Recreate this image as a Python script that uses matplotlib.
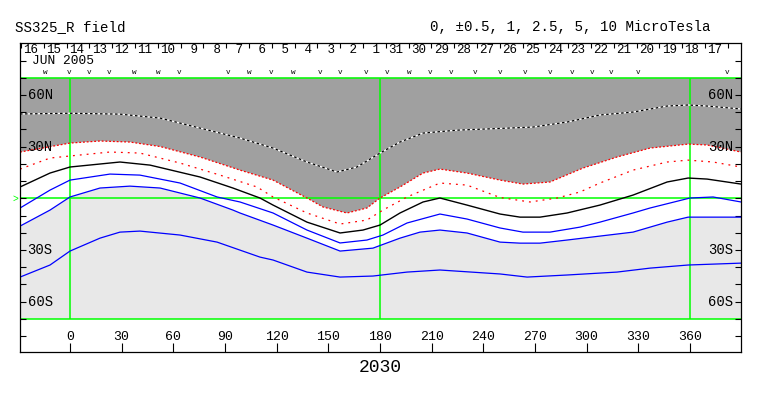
import numpy as np
import matplotlib
matplotlib.use("Agg")
import matplotlib.pyplot as plt

# contour lines: longitude (deg) / latitude (deg)
top_lon = [-29, 0, 29, 52.3, 75.5, 98.7, 117.9, 137.6, 155, 166.6, 180, 191.6, 205, 224.7, 249.7, 268.8, 288.6, 307.7, 326.9, 346.7, 358.9, 369.9, 389.6]
top_lat = [49, 49.4, 48.9, 46.6, 40.8, 35, 29.2, 21.1, 15.3, 18.2, 26.3, 32.7, 37.9, 39.6, 40.6, 41.4, 44.3, 48.4, 50.1, 53.6, 54.2, 53.6, 51.9]

red1_lon = [-29, 0, 17.4, 34.8, 52.3, 75.5, 98.7, 117.9, 137.6, 146.9, 160.8, 172.4, 180, 191.6, 205, 214.8, 230.5, 249.7, 263, 278.7, 297.9, 317.6, 336.8, 358.9, 369.9, 389.6]
red1_lat = [26.9, 32.1, 33.3, 32.7, 30.1, 24, 16.4, 10.6, 0.2, -5, -8.5, -5.6, 0.2, 6.6, 14.7, 17, 14.7, 10.6, 8.3, 9.5, 17.6, 24, 29.2, 31.5, 31, 26.9]

red2_lon = [-29, -11.6, 0, 23.2, 40.6, 63.9, 87.1, 108.6, 117.9, 137.6, 156.8, 172.4, 181.7, 195.7, 214.8, 230.5, 249.7, 267.1, 282.8, 296.1, 307.7, 326.9, 346.7, 358.9, 373.4, 389.6]
red2_lat = [17, 23.4, 24.6, 26.9, 26.3, 20.5, 13.5, 6.6, 0.8, -8.5, -14.9, -12.6, -6.8, 0.8, 8.9, 7.7, 0.5, -2.1, 0.2, 3.7, 8.9, 16.4, 21.1, 22.2, 21.1, 18.2]

zero_lon = [-29, -11.6, 0, 29, 46.5, 75.5, 94.6, 110.3, 117.9, 137.6, 156.8, 170.1, 180, 191.6, 205, 214.8, 230.5, 249.7, 261.3, 272.9, 288.6, 307.7, 326.9, 346.7, 358.9, 369.9, 389.6]
zero_lat = [6.6, 14.7, 18.2, 21.1, 19.3, 12.4, 6, 0.2, -3.9, -13.8, -20.1, -18.4, -15.5, -8.5, -2.1, 0.2, -3.9, -9.1, -10.9, -10.9, -8.5, -3.9, 1.9, 9.5, 11.8, 11.2, 8.3]

blue1_lon = [-29, -11.6, 0, 23.2, 40.6, 63.9, 85.4, 98.7, 117.9, 137.6, 156.8, 172.4, 181.7, 195.7, 214.8, 230.5, 249.7, 263, 278.7, 296.1, 307.7, 326.9, 336.8, 360, 373.4, 389.6]
blue1_lat = [-5.6, 4.8, 10.6, 14.1, 13.5, 8.9, 0.8, -2.1, -8.5, -18.4, -25.9, -24.2, -21.3, -14.3, -9.1, -12, -17.2, -19.6, -19.6, -16.7, -13.8, -8.5, -5.6, 0.2, 0.8, -2.1]

blue2_lon = [-29, -11.6, 0, 17.4, 34.8, 52.3, 75.5, 94.6, 98.7, 117.9, 137.6, 156.8, 175.9, 191.6, 203.2, 214.8, 230.5, 249.7, 261.3, 272.9, 288.6, 307.7, 326.9, 346.7, 358.9, 369.9, 389.6]
blue2_lat = [-16.1, -6.8, 0.8, 6, 7.1, 6, 0.2, -6.8, -8.5, -15.5, -23.1, -30.6, -28.9, -23.1, -19.6, -18.4, -20.1, -25.4, -26, -26, -24.2, -21.9, -19.6, -13.8, -10.9, -10.9, -10.9]

blue3_lon = [-29, -11.6, 0, 17.4, 29, 40.6, 63.9, 85.4, 110.3, 117.9, 137.6, 156.8, 175.9, 195.7, 214.8, 249.7, 265.4, 288.6, 317.6, 336.8, 358.9, 389.6]
blue3_lat = [-45.7, -38.7, -30.6, -23.1, -19.6, -19, -21.3, -25.4, -34.1, -35.8, -42.8, -45.7, -45.1, -42.8, -41.6, -43.9, -45.7, -44.5, -42.8, -40.5, -38.7, -37.6]

day_labels = ["16", "15", "14", "13", "12", "11", "10", " 9", " 8", " 7", " 6", " 5", " 4", " 3", " 2", " 1",
              "31", "30", "29", "28", "27", "26", "25", "24", "23", "22", "21", "20", "19", "18", "17"]
pass_lon = [-14.5, -0.6, 11.0, 22.6, 37.2, 51.1, 63.3, 91.7, 103.9, 116.7, 129.5, 145.2, 156.8, 171.9, 184.1,
            196.9, 209.0, 221.2, 235.2, 249.7, 264.2, 278.7, 291.5, 303.1, 314.1, 329.8, 381.5]
pass_mark = ["w", "v", "v", "v", "w", "w", "v", "v", "w", "v", "w", "v", "v", "v", "v",
             "w", "v", "v", "v", "v", "v", "v", "v", "v", "v", "v", "v"]
lon_ticks = [0, 30, 60, 90, 120, 150, 180, 210, 240, 270, 300, 330, 360]
lat_labels = {60: "60N", 30: "30N", -30: "30S", -60: "60S"}

mono = "Liberation Mono"
green = "#00ff00"
x0, x1 = -29.03, 389.6

fig = plt.figure(figsize=(7.63, 3.96), dpi=100)
ax = fig.add_axes([20 / 763, 44 / 396, 721 / 763, 309 / 396])
ax.set_xlim(x0, x1)
ax.set_ylim(-89.2, 90.2)

# shaded regions
ax.fill(np.concatenate([red1_lon, [x1, x0]]), np.concatenate([red1_lat, [70, 70]]), color="#a0a0a0", lw=0, zorder=0)
ax.fill(np.concatenate([blue2_lon, [x1, x0]]), np.concatenate([blue2_lat, [-70, -70]]), color="#e8e8e8", lw=0, zorder=0)

# grid lines
ax.axhline(0, color=green, lw=1.1, zorder=1)
ax.axhline(70, color=green, lw=1.1, zorder=1)
ax.axhline(-70, color=green, lw=1.1, zorder=1)
ax.vlines([0, 180, 360], -70, 70, color=green, lw=1.1, zorder=1)

# contours
ax.plot(top_lon, top_lat, color="white", lw=0.9, zorder=2)
ax.plot(top_lon, top_lat, color="black", lw=0.9, ls=(0, (2, 2)), zorder=2)
ax.plot(red1_lon, red1_lat, color="red", lw=0.9, ls=(0, (1.5, 1.5)), zorder=2)
ax.plot(red2_lon, red2_lat, color="red", lw=0.9, ls=(0, (1.5, 4)), zorder=2)
ax.plot(zero_lon, zero_lat, color="black", lw=1.0, zorder=2)
ax.plot(blue1_lon, blue1_lat, color="blue", lw=0.9, zorder=2)
ax.plot(blue2_lon, blue2_lat, color="blue", lw=0.9, zorder=2)
ax.plot(blue3_lon, blue3_lat, color="blue", lw=0.9, zorder=2)

# axes / ticks
for s in ax.spines.values():
    s.set_linewidth(0.9)
ax.set_yticks(np.arange(-80, 81, 10))
ax.set_xticks(lon_ticks)
ax.tick_params(axis="y", direction="in", length=4.5, width=0.8, left=True, right=True, labelleft=False)
ax.tick_params(axis="x", direction="in", length=6.5, width=0.8, labelbottom=False)

for lon in lon_ticks:
    ax.text(lon, -80.5, str(lon), ha="center", va="center", fontsize=9.5, family=mono)
for lat, lab in lat_labels.items():
    ax.text(-24.6, lat, lab, ha="left", va="center", fontsize=10, family=mono)
    ax.text(385.3, lat, lab, ha="right", va="center", fontsize=10, family=mono)

# day labels along the top
step = 13.24
seps = -28.45 + step * np.arange(len(day_labels) + 1)
ax.vlines(seps, 87.3, 90.2, color="black", lw=0.8)
for i, d in enumerate(day_labels):
    ax.text(seps[i] + 1.3, 86.4, d, ha="left", va="center", fontsize=9, family=mono)
ax.text(-22.2, 79.6, "JUN 2005", ha="left", va="center", fontsize=9.3, family=mono)
for lon, m in zip(pass_lon, pass_mark):
    ax.text(lon, 72.9, m, ha="center", va="center", fontsize=5.5, family=mono)
ax.text(-31.5, 0, ">", color=green, ha="center", va="center", fontsize=7, family=mono, clip_on=False)

fig.text(15 / 763, 1 - 27 / 396, "SS325_R field", ha="left", va="center", fontsize=10.2, family=mono)
fig.text(711 / 763, 1 - 27 / 396, "0, \u00b10.5, 1, 2.5, 5, 10 MicroTesla", ha="right", va="center", fontsize=10.2, family=mono)
fig.text(380 / 763, 1 - 367 / 396, "2030", ha="center", va="center", fontsize=13, family=mono)

fig.savefig("out.png", dpi=100)
